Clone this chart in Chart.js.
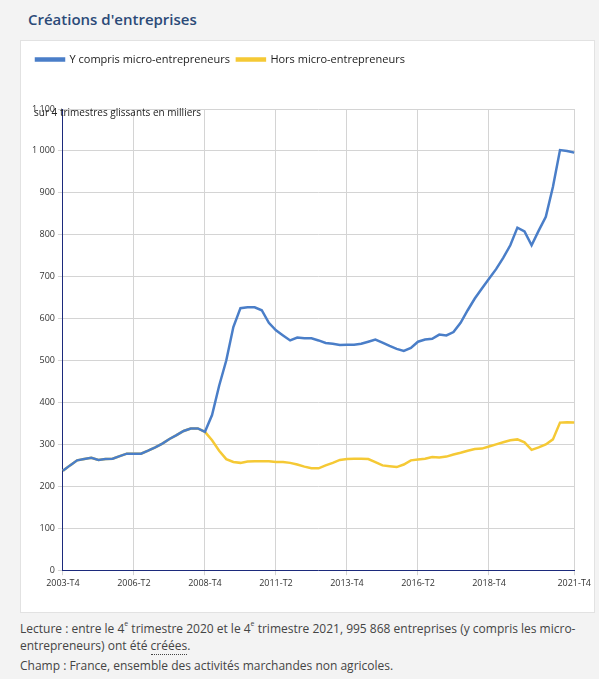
<!DOCTYPE html>
<html><head><meta charset="utf-8">
<script src="https://cdn.jsdelivr.net/npm/chart.js@4"></script>
<style>
body{margin:0;background:#f3f3f3;font-family:"Open Sans",sans-serif;width:599px;height:679px;overflow:hidden;position:relative}
#t{position:absolute;left:28px;top:9px;font-size:15px;color:#2b4a78;font-weight:600}
#p{position:absolute;left:20px;top:40px;width:575px;height:573px;background:#fff;border:1px solid #e2e2e2;box-sizing:border-box}
#c{position:absolute;left:0;top:0}
#u{position:absolute;left:34px;top:105px;font-size:10px;color:#222}
#f{position:absolute;left:20px;top:620px;font-size:12px;color:#444;line-height:17px;width:570px}
sup{font-size:7px;vertical-align:top;line-height:0;position:relative;top:4px}
</style></head><body>
<div id="t">Créations d'entreprises</div>
<div id="p"><canvas id="c" width="573" height="571"></canvas></div>
<div id="u">sur 4 trimestres glissants en milliers</div>
<div id="f">Lecture : entre le 4<sup>e</sup> trimestre 2020 et le 4<sup>e</sup> trimestre 2021, 995 868 entreprises (y compris les micro-entrepreneurs) ont été <span style="border-bottom:1px dotted #444">créées</span>.<div style="margin-top:3px">Champ : France, ensemble des activités marchandes non agricoles.</div><div style="margin-top:3px;font-style:italic">Source : Insee, Répertoire des entreprises et des établissements (Sirene).</div></div>
<script>
const quarters=[];for(let y=2003,q=4;quarters.length<73;){quarters.push(y+'-T'+q);q++;if(q>4){q=1;y++;}}
const tickIdx=[0,10,20,30,40,50,60,72];
const hors=[237,250,262,265,268,263,265,266,272,278,278,278,285,293,302,313,322,332,338,338,330,310,285,265,258,256,259,260,260,260,258,258,256,252,247,243,243,250,256,263,265,266,266,265,258,250,248,246,252,262,264,266,270,269,271,276,280,285,289,290,295,300,305,310,312,305,287,293,300,312,352,353,352];
const ycompris=[237,250,262,265,268,263,265,266,272,278,278,278,285,293,302,313,322,332,338,338,330,370,440,500,580,625,627,627,620,590,572,560,548,555,553,553,548,542,540,537,538,538,540,545,550,543,535,528,523,530,545,550,552,562,560,568,590,620,648,672,695,718,745,775,817,808,775,810,843,914,1002,1000,996];
const legendGap={id:'legendGap',beforeInit(chart){const l=chart.legend;const f=l.fit;l.fit=function(){f.call(l);l.height+=34;};}};
new Chart(document.getElementById('c'),{type:'line',
data:{labels:quarters,datasets:[
{label:'Y compris micro-entrepreneurs',data:ycompris,borderColor:'#4a7ec8',backgroundColor:'#4a7ec8',borderWidth:2.5,pointRadius:0,tension:0},
{label:'Hors micro-entrepreneurs',data:hors,borderColor:'#f5c935',backgroundColor:'#f5c935',borderWidth:2.5,pointRadius:0,tension:0}]},
plugins:[legendGap],
options:{responsive:false,animation:false,devicePixelRatio:1,
layout:{padding:{left:8,right:14,top:6,bottom:20}},
plugins:{tooltip:{enabled:false},legend:{align:'start',labels:{boxWidth:28,boxHeight:2,font:{family:'Open Sans',size:11},color:'#222',padding:7}}},
scales:{x:{grid:{color:'#d4d4d4',tickLength:5},border:{color:'#1c2a7c'},ticks:{autoSkip:false,maxRotation:0,font:{family:'Open Sans',size:9},color:'#333',callback:(v,i)=>tickIdx.includes(i)?quarters[i]:null}},
y:{min:0,max:1100,grid:{color:'#d4d4d4',tickLength:5},border:{color:'#1c2a7c'},ticks:{stepSize:100,font:{family:'Open Sans',size:9},color:'#333',callback:v=>v>=1000?'1 '+String(v-1000).padStart(3,'0'):v}}}}
});
</script></body></html>
